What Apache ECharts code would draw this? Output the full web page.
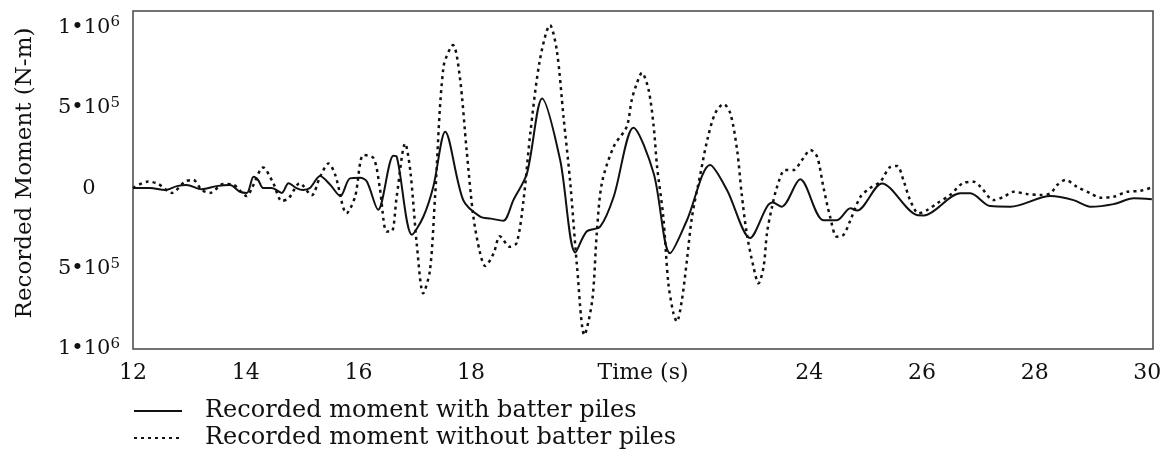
<!DOCTYPE html>
<html>
<head>
<meta charset="utf-8">
<script src="https://cdn.jsdelivr.net/npm/echarts@6/dist/echarts.min.js"></script>
<style>
html,body{margin:0;padding:0;background:#fff;}
#chart{width:1167px;height:450px;}
</style>
</head>
<body>
<div id="chart"></div>
<script>
// Time (s) and recorded moment (N-m) — with batter piles (solid)
const withT = [12.0,12.3,12.57,12.78,12.95,13.22,13.48,13.72,13.9,14.02,14.14,14.22,14.31,14.46,14.64,14.76,14.9,15.02,15.14,15.32,15.5,15.68,15.85,16.03,16.15,16.35,16.62,16.68,16.95,17.15,17.33,17.54,17.86,18.16,18.35,18.57,18.75,18.99,19.26,19.58,19.85,20.05,20.29,20.53,20.88,21.24,21.53,21.83,22.24,22.54,22.95,23.25,23.35,23.51,23.84,24.25,24.49,24.73,24.85,25.29,25.91,26.03,26.68,26.86,27.21,27.57,28.28,28.69,28.99,29.4,29.76,30.08];
const withM = [0,0,-12000,12000,19000,-8000,12000,19000,-23000,-30000,70000,50000,0,0,-30000,30000,0,-12000,0,75000,20000,-50000,60000,64000,40000,-135000,200000,195000,-290000,-180000,10000,350000,-75000,-178000,-190000,-203000,-75000,90000,557000,174000,-400000,-270000,-240000,-54000,375000,90000,-405000,-200000,143000,-12000,-310000,-116000,-90000,-116000,54000,-200000,-200000,-126000,-140000,29000,-168000,-170000,-33000,-33000,-112000,-116000,-50000,-75000,-116000,-100000,-64000,-70000];

// Time (s) and recorded moment (N-m) — without batter piles (dashed)
const withoutT = [12.0,12.27,12.45,12.69,12.92,13.07,13.22,13.37,13.6,13.78,14.02,14.11,14.31,14.49,14.64,14.76,14.96,15.17,15.32,15.47,15.59,15.79,15.94,16.09,16.27,16.38,16.5,16.59,16.68,16.83,16.92,17.04,17.15,17.27,17.36,17.51,17.68,17.8,17.92,18.04,18.16,18.25,18.4,18.51,18.69,18.81,18.93,19.05,19.22,19.4,19.52,19.64,19.76,19.88,20.01,20.15,20.23,20.32,20.53,20.76,20.85,20.94,21.03,21.15,21.24,21.3,21.41,21.5,21.59,21.65,21.74,21.83,21.92,22.07,22.19,22.33,22.48,22.6,22.72,22.8,22.89,23.01,23.1,23.19,23.25,23.34,23.43,23.57,23.72,23.87,24.02,24.14,24.25,24.37,24.49,24.61,24.73,24.91,25.08,25.26,25.44,25.56,25.67,25.79,25.94,26.09,26.27,26.5,26.74,26.92,27.04,27.27,27.45,27.63,27.86,28.1,28.28,28.4,28.55,28.75,28.99,29.17,29.4,29.64,29.88,30.08];
const withoutM = [0,40000,25000,-30000,40000,50000,-12000,-30000,25000,20000,-50000,0,128000,30000,-80000,-65000,30000,-45000,70000,153000,80000,-157000,-55000,205000,185000,0,-270000,-270000,-50000,277000,110000,-365000,-654000,-510000,-54000,753000,888000,690000,236000,-178000,-405000,-484000,-405000,-300000,-365000,-340000,-75000,340000,795000,1012000,857000,440000,30000,-490000,-913000,-696000,-280000,30000,257000,381000,547000,650000,716000,609000,381000,132000,-178000,-592000,-778000,-830000,-696000,-447000,-178000,91000,298000,464000,522000,464000,236000,-33000,-280000,-489000,-592000,-489000,-280000,-116000,8000,112000,112000,174000,236000,194000,8000,-178000,-302000,-290000,-200000,-54000,0,39000,132000,137000,50000,-75000,-157000,-137000,-95000,-43000,33000,39000,8000,-75000,-54000,-23000,-37000,-43000,-33000,19000,50000,8000,-33000,-60000,-54000,-23000,-17000,4000];

const xTickLabels = [12,14,16,18,24,26,28,30];
const yTickValues = [-1000000,-500000,0,500000,1000000];
const yTickLabels = {'-1000000':['1•10','6'],'-500000':['5•10','5'],'0':['0',''],'500000':['5•10','5'],'1000000':['1•10','6']};
const seriesNames = ['Recorded moment with batter piles','Recorded moment without batter piles'];

const FONT = 'DejaVu Serif';
const legendBase = {
  left:133, padding:0, orient:'vertical', itemWidth:48, itemHeight:14,
  itemStyle:{opacity:0},
  textStyle:{fontFamily:FONT, fontSize:24, lineHeight:22, color:'#111', padding:[0,0,0,18]}
};
const chart = echarts.init(document.getElementById('chart'), null, {renderer:'canvas'});
chart.setOption({
  animation:false,
  backgroundColor:'#fff',
  grid:{left:133, top:11, width:1020, height:338, show:true, borderColor:'#444', borderWidth:1.5, backgroundColor:'transparent'},
  legend:[
    Object.assign({}, legendBase, {top:399, data:[seriesNames[0]]}),
    Object.assign({}, legendBase, {top:426, data:[seriesNames[1]]})
  ],
  xAxis:{
    type:'value', min:12, max:30.1, interval:2,
    name:'Time (s)', nameLocation:'middle', nameGap:13, nameMoveOverlap:false,
    nameTextStyle:{fontFamily:FONT, fontSize:22, color:'#111', verticalAlign:'top'},
    axisLine:{show:false}, axisTick:{show:false}, splitLine:{show:false},
    axisLabel:{fontFamily:FONT, fontSize:22, color:'#111', margin:13,
      formatter:v => xTickLabels.includes(v) ? String(v) : ''}
  },
  yAxis:{
    type:'value', min:-1000000, max:1100000, interval:500000,
    name:'Recorded Moment (N-m)', nameLocation:'middle', nameGap:96, nameMoveOverlap:false,
    nameTextStyle:{fontFamily:FONT, fontSize:23, color:'#111', padding:[0,0,0,14]},
    axisLine:{show:false}, axisTick:{show:false}, splitLine:{show:false},
    axisLabel:{fontFamily:FONT, fontSize:21, color:'#111', margin:44, align:'center',
      formatter:v => {
        if (!yTickValues.includes(v)) return '';
        const p = yTickLabels[String(v)];
        return p[1] ? '{b|' + p[0] + '}{s|' + p[1] + '}' : '{b|' + p[0] + '}';
      },
      rich:{
        b:{fontFamily:FONT, fontSize:21, color:'#111', lineHeight:24},
        s:{fontFamily:FONT, fontSize:15, color:'#111', verticalAlign:'top', lineHeight:24}
      }
    }
  },
  series:[
    {name:seriesNames[0], type:'line', data:withT.map((t,i)=>[t, withM[i]]),
     symbol:'none', smooth:0.3, lineStyle:{color:'#111', width:2, type:'solid'}, itemStyle:{color:'#111'}},
    {name:seriesNames[1], type:'line', data:withoutT.map((t,i)=>[t, withoutM[i]]),
     symbol:'none', smooth:0.3, lineStyle:{color:'#111', width:2.5, type:[3,4]}, itemStyle:{color:'#111'}}
  ]
});
</script>
</body>
</html>
